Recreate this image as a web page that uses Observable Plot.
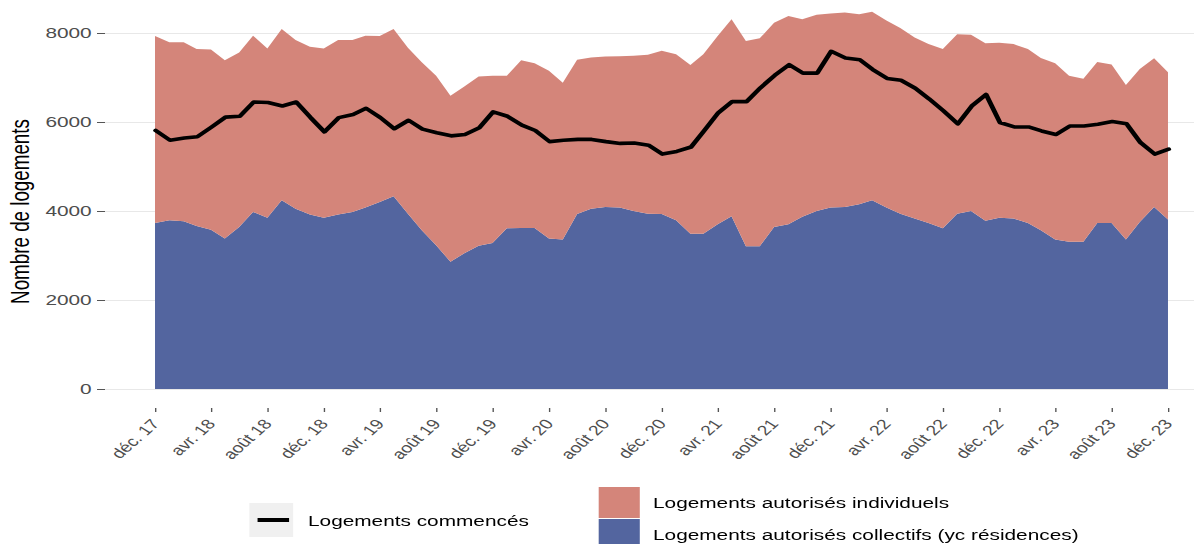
<!DOCTYPE html>
<html lang="fr">
<head>
<meta charset="utf-8">
<script src="https://cdn.jsdelivr.net/npm/d3@7"></script>
<script src="https://cdn.jsdelivr.net/npm/@observablehq/plot@0.6"></script>
<style>
  html, body { margin: 0; padding: 0; background: #fff; overflow: hidden; }
  body { width: 1194px; height: 544px; position: relative; font-family: "Liberation Sans", Arial, sans-serif; }
  #stage { position: absolute; left: 0; top: 0; transform-origin: 0 0; }
  #legend { position: relative; height: 66px; color: #000; font-size: 15.2px; }
  #legend .item { position: absolute; }
  #legend .txt { position: absolute; white-space: nowrap; transform: translateY(-50%); line-height: 1; }
</style>
</head>
<body>
<div id="stage">
  <div id="chart"></div>
  <div id="legend"></div>
</div>
<script>
// ---- Data (monthly, déc. 2017 → déc. 2023) ----
const startMonth = "2017-12-01";
const nMonths = 73;

const collectifs = [
  3730,3790,3770,3660,3580,3380,3640,3980,3850,4240,
  4050,3920,3850,3920,3980,4080,4200,4330,3940,3570,
  3230,2860,3050,3220,3280,3610,3620,3620,3380,3360,
  3930,4050,4090,4080,4000,3940,3930,3790,3490,3490,
  3700,3880,3210,3210,3640,3700,3870,4000,4080,4090,
  4150,4240,4080,3940,3830,3730,3610,3940,4000,3780,
  3850,3830,3730,3570,3360,3310,3310,3730,3730,3360,
  3750,4090,3810
];

const individuels = [
  4200,4000,4020,3980,4050,4010,3920,3960,3800,3850,
  3790,3770,3800,3920,3860,3860,3730,3760,3730,3770,
  3810,3730,3750,3800,3760,3430,3770,3700,3770,3520,
  3470,3400,3380,3400,3490,3570,3670,3730,3790,4030,
  4230,4430,4610,4670,4590,4680,4440,4410,4360,4370,
  4270,4240,4200,4170,4070,4020,4030,4030,3960,3990,
  3930,3920,3910,3870,3960,3730,3660,3620,3560,3470,
  3440,3340,3310
];

const commences = [
  5820,5600,5650,5680,5900,6120,6140,6460,6450,6370,
  6460,6110,5790,6110,6180,6320,6110,5860,6050,5850,
  5770,5700,5730,5880,6240,6140,5940,5820,5570,5600,
  5620,5620,5570,5530,5540,5490,5290,5350,5450,5810,
  6220,6470,6470,6780,7060,7300,7110,7110,7600,7450,
  7410,7190,6990,6950,6770,6530,6260,5970,6370,6630,
  6000,5900,5900,5810,5730,5920,5920,5960,6020,5970,
  5550,5290,5400
];

const tickLabels = [
  "déc. 17","avr. 18","août 18","déc. 18","avr. 19","août 19","déc. 19",
  "avr. 20","août 20","déc. 20","avr. 21","août 21","déc. 21","avr. 22",
  "août 22","déc. 22","avr. 23","août 23","déc. 23"
];
const yTicks = [0, 2000, 4000, 6000, 8000];

const LBL_LINE = "Logements commencés";
const LBL_IND = "Logements autorisés individuels";
const LBL_COL = "Logements autorisés collectifs (yc résidences)";
const yTitle = "Nombre de logements";

const COL_IND = "#D4857A";
const COL_COL = "#53659F";

// ---- Build tables ----
const start = new Date(startMonth + "T00:00:00Z");
const months = d3.utcMonth.range(start, d3.utcMonth.offset(start, nMonths));
const long = [];
months.forEach((d, i) => {
  long.push({date: d, serie: LBL_COL, value: collectifs[i]});
  long.push({date: d, serie: LBL_IND, value: individuels[i]});
});
const lineData = months.map((d, i) => ({date: d, value: commences[i]}));
const tickDates = tickLabels.map((_, k) => d3.utcMonth.offset(start, 4 * k));
const labelOf = new Map(tickDates.map((d, k) => [+d, tickLabels[k]]));

// ---- Layout (rendered at natural width, stretched horizontally) ----
const S = 1.37;
const W = 1194 / S;
const H = 478;
const stage = document.getElementById("stage");
stage.style.width = W + "px";
stage.style.transform = `scaleX(${S})`;

const chart = Plot.plot({
  width: W,
  height: H,
  marginLeft: 105 / S,
  marginRight: 0,
  marginTop: 0,
  marginBottom: H - 408,
  style: {fontFamily: '"Liberation Sans", Arial, sans-serif', background: "#fff", overflow: "visible"},
  x: {type: "utc", domain: [months[0], months[months.length - 1]], range: [155 / S, 1168 / S]},
  y: {domain: [0, 8000], range: [389, 33]},
  color: {domain: [LBL_IND, LBL_COL], range: [COL_IND, COL_COL]},
  marks: [
    Plot.gridY(yTicks, {stroke: "#e8e8e8", strokeOpacity: 1, strokeWidth: 1.1}),
    Plot.areaY(long, {x: "date", y: "value", fill: "serie", order: [LBL_COL, LBL_IND]}),
    Plot.lineY(lineData, {x: "date", y: "value", stroke: "#000", strokeWidth: 3.6, strokeLinejoin: "round"}),
    Plot.axisY(yTicks, {
      anchor: "left", tickSize: 8 / S, tickPadding: 6 / S, fontSize: 15.2,
      color: "#4d4d4d", stroke: "#555", label: null, tickFormat: d => String(d)
    }),
    Plot.axisX(tickDates, {
      anchor: "bottom", tickSize: 4, tickPadding: 9, tickRotate: -50, fontSize: 14,
      color: "#4d4d4d", stroke: "#555", label: null, tickFormat: d => labelOf.get(+d)
    }),
    Plot.text([yTitle], {
      frameAnchor: "left", text: d => d, rotate: -90, fontSize: 18.8, fill: "#000",
      textAnchor: "middle", dx: 20 / S - 105 / S, dy: 211 - 204
    })
  ]
});
document.getElementById("chart").appendChild(chart);

// ---- Legend (HTML, below the SVG) ----
const legend = document.getElementById("legend");
function box(left, top, w, h, bg) {
  const d = document.createElement("div");
  d.className = "item";
  Object.assign(d.style, {left: left + "px", top: top + "px", width: w + "px", height: h + "px", background: bg});
  legend.appendChild(d);
  return d;
}
function txt(left, cy, s) {
  const d = document.createElement("div");
  d.className = "txt";
  d.textContent = s;
  Object.assign(d.style, {left: left + "px", top: cy + "px"});
  legend.appendChild(d);
}
// line key
box(250 / S, 503 - H, 43 / S, 34, "#f0f0f0");
box(258 / S, 520 - H - 2, 31 / S, 4, "#000");
txt(308 / S, 521 - H, LBL_LINE);
// fill keys
box(599 / S, 487 - H, 41 / S, 31, COL_IND);
box(599 / S, 519 - H, 41 / S, 31, COL_COL);
txt(653 / S, 503 - H, LBL_IND);
txt(653 / S, 535 - H, LBL_COL);
</script>
</body>
</html>
